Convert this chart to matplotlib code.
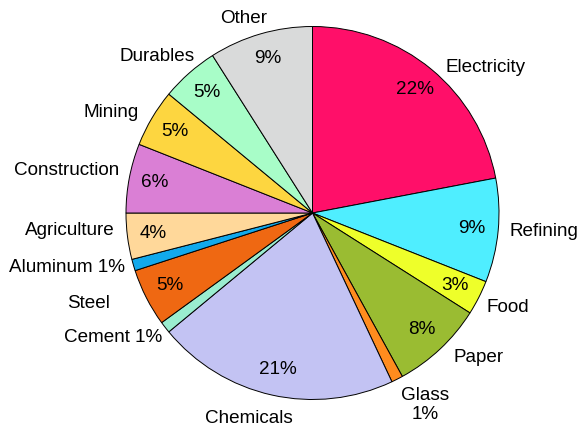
import matplotlib
matplotlib.use("Agg")
import matplotlib.pyplot as plt

plt.rcParams["font.family"] = ["Liberation Sans", "DejaVu Sans"]

# energy use by sector, percent of total (clockwise from 12 o'clock)
sectors = ["Electricity", "Refining", "Food", "Paper", "Glass", "Chemicals",
           "Cement", "Steel", "Aluminum", "Agriculture", "Construction",
           "Mining", "Durables", "Other"]
shares = [22, 9, 3, 8, 1, 21, 1, 5, 1, 4, 6, 5, 5, 9]
colors = ["#FF0F69", "#4FEEFF", "#EEFF2A", "#9ABC32", "#FF8C1E", "#C3C3F3",
          "#9AEDCF", "#EF6812", "#12A9EC", "#FFD89A", "#DA7FD5", "#FDD640",
          "#A8FDC8", "#D9DADA"]

# 1% slices are too thin for an inside value, so it goes in the outside label
outer_text = []
for name, v in zip(sectors, shares):
    if v > 1:
        outer_text.append(name)
    elif name == "Glass":
        outer_text.append(f"{name}\n{v}%")
    else:
        outer_text.append(f"{name} {v}%")

# outside label anchors (x centre, baseline) in pie-radius units
label_xy = [(0.930, 0.756), (1.241, -0.122), (1.046, -0.529), (0.893, -0.797),
            (0.603, -1.029), (-0.340, -1.126), (-1.070, -0.693), (-1.201, -0.509),
            (-1.314, -0.316), (-1.300, -0.118), (-1.316, 0.204), (-1.080, 0.513),
            (-0.836, 0.817), (-0.367, 1.020)]

W, H = 581, 429
cx, cy, R = 312.5, 213, 186.5   # pie centre and radius in pixels
FS = 13.6

fig = plt.figure(figsize=(W / 100, H / 100), dpi=100)
ax = fig.add_axes([0, 0, 1, 1])
ax.pie(shares, colors=colors, startangle=90, counterclock=False,
       autopct=lambda p: f"{p:.0f}%" if p > 1.5 else "",
       pctdistance=0.86,
       wedgeprops=dict(edgecolor="black", linewidth=0.7),
       textprops=dict(fontsize=FS, color="black"))

for txt, (x, y) in zip(outer_text, label_xy):
    if "\n" in txt:
        ax.text(x, y, txt, ha="center", va="center", fontsize=FS, linespacing=1.15)
    else:
        ax.text(x, y, txt, ha="center", va="baseline", fontsize=FS)

ax.set_xlim(-cx / R, (W - cx) / R)
ax.set_ylim((cy - H) / R, cy / R)
ax.set_aspect("auto")
ax.axis("off")
fig.savefig("out.png", dpi=100)
